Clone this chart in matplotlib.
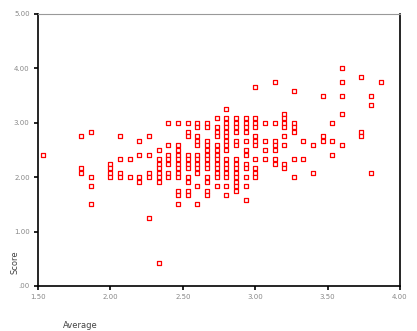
import matplotlib
matplotlib.use("Agg")
import matplotlib.pyplot as plt
import numpy as np

# x values are steps of 1/15, y values steps of 1/12
col_x = [23, 27, 28, 30, 31, 32, 33, 34, 35, 36, 37, 38, 39, 40, 41, 42,
         43, 44, 45, 46, 47, 48, 49, 50, 51, 52, 53, 54, 56, 57, 58]
col_y = [
    [29],
    [33, 26, 25],
    [34, 24, 22, 18],
    [27, 26, 25, 24],
    [33, 28, 25, 24],
    [28, 24],
    [32, 29, 24, 23],
    [33, 29, 25, 24, 15],
    [30, 28, 27, 26, 25, 24, 23, 5],
    [36, 31, 29, 28, 27, 25, 24],
    [36, 31, 30, 29, 28, 27, 26, 25, 24, 21, 20, 18],
    [36, 34, 33, 29, 28, 27, 26, 24, 23, 21, 20],
    [36, 35, 33, 32, 31, 29, 28, 27, 26, 25, 22, 18],
    [36, 35, 32, 31, 30, 29, 28, 27, 26, 24, 23, 21, 20],
    [37, 35, 34, 33, 31, 30, 29, 28, 27, 26, 25, 24, 22],
    [39, 37, 36, 35, 34, 33, 32, 31, 30, 28, 27, 26, 25, 24, 22, 20],
    [37, 36, 35, 34, 32, 31, 28, 27, 26, 25, 24, 23, 22, 21],
    [37, 36, 35, 34, 32, 30, 29, 27, 26, 24, 22, 19],
    [44, 37, 36, 35, 33, 32, 31, 28, 26, 25, 24],
    [36, 32, 30, 28],
    [45, 36, 32, 31, 30, 28, 27],
    [38, 37, 36, 35, 33, 31, 27, 26],
    [43, 36, 35, 34, 28, 24],
    [32, 28],
    [31, 25],
    [42, 33, 32],
    [36, 32, 29],
    [48, 45, 42, 38, 31],
    [46, 34, 33],
    [42, 40, 25],
    [45],
]

x_ticks = [1.5, 2.0, 2.5, 3.0, 3.5, 4.0]
x_labels = ["1.50", "2.00", "2.50", "3.00", "3.50", "4.00"]
y_ticks = [0, 1, 2, 3, 4, 5]
y_labels = [".00", "1.00", "2.00", "3.00", "4.00", "5.00"]

xs = []
ys = []
for k, rows in zip(col_x, col_y):
    for r in rows:
        xs.append(k / 15)
        ys.append(r / 12)
xs = np.array(xs)
ys = np.array(ys)

fig = plt.figure(figsize=(4.17, 3.31), dpi=100)
ax = fig.add_axes([38 / 417, 1 - 286 / 331, 362 / 417, 272 / 331])

ax.scatter(xs, ys, marker="s", s=9, facecolors="white",
           edgecolors="#ff0000", linewidths=0.9, zorder=3)

ax.set_xlim(1.5, 4.0)
ax.set_ylim(0, 5)
ax.set_xticks(x_ticks)
ax.set_xticklabels(x_labels)
ax.set_yticks(y_ticks)
ax.set_yticklabels(y_labels)
ax.tick_params(direction="out", length=3, width=1.2, labelsize=5,
               labelcolor="#888888", pad=3)

for side in ["left", "bottom", "right"]:
    ax.spines[side].set_linewidth(1.2)
ax.spines["top"].set_color("#999999")

fig.text(15 / 417, 1 - 262 / 331, "Score", rotation=90, fontsize=6,
         color="#444444", ha="center", va="center")
fig.text(80 / 417, 1 - 325 / 331, "Average", fontsize=6,
         color="#444444", ha="center", va="center")

fig.savefig("out.png", dpi=100)
